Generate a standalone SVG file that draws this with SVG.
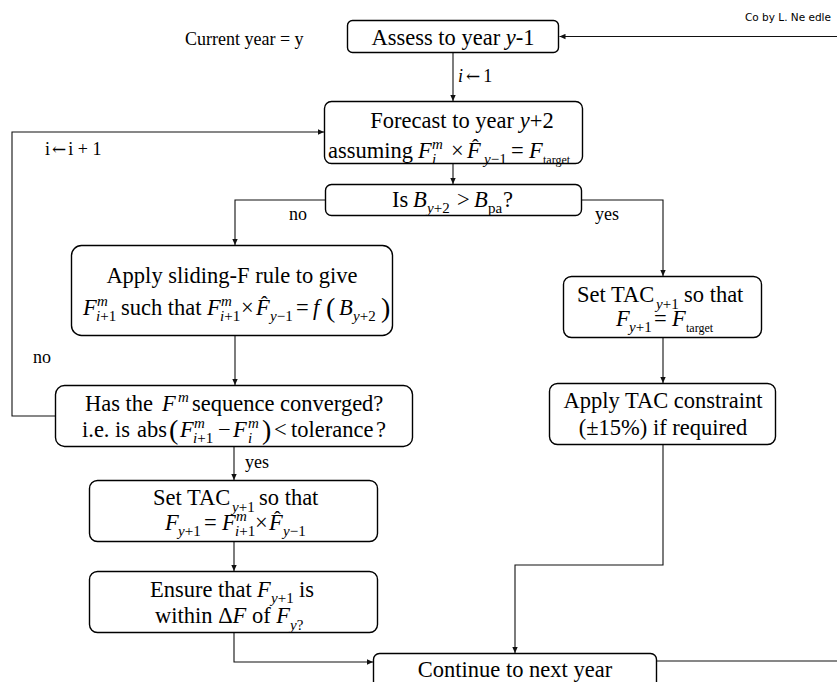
<svg xmlns="http://www.w3.org/2000/svg" width="837" height="682" viewBox="0 0 837 682">
<style>
.t{font-family:"Liberation Serif","Times New Roman",serif;font-size:22.5px;fill:#000}
.m{text-anchor:middle}
.it{font-style:italic}
.sb{font-size:15px}
.tg{font-size:12px}
.lb{font-size:18px}
.pr{font-size:28px}
.ht{font-size:20px}
.ar{font-family:"DejaVu Serif","DejaVu Sans",serif;font-size:17px}
.box{fill:#fff;stroke:#000;stroke-width:1.4}
.c{fill:none;stroke:#111;stroke-width:1.1}
.wm{font-family:"DejaVu Sans","Liberation Sans",sans-serif;font-size:10.5px;fill:#000}
</style>
<defs>
<marker id="ah" viewBox="0 0 10 10" refX="10" refY="5" markerWidth="7" markerHeight="6" orient="auto" markerUnits="userSpaceOnUse"><path d="M0,0.5 L10,5 L0,9.5 z" fill="#111"/></marker>
</defs>
<rect width="837" height="682" fill="#fff"/>

<g id="connectors">
<path class="c" d="M837,36.5 H559.5" marker-end="url(#ah)"/>
<path class="c" d="M453,53 V101" marker-end="url(#ah)"/>
<path class="c" d="M453,164 V184" marker-end="url(#ah)"/>
<path class="c" d="M325,200 H235 V245" marker-end="url(#ah)"/>
<path class="c" d="M582,200 H663 V276" marker-end="url(#ah)"/>
<path class="c" d="M235,336 V385" marker-end="url(#ah)"/>
<path class="c" d="M55,416 H12 V132 H324" marker-end="url(#ah)"/>
<path class="c" d="M234,447 V480" marker-end="url(#ah)"/>
<path class="c" d="M234,542 V571" marker-end="url(#ah)"/>
<path class="c" d="M234,633 V662 H373" marker-end="url(#ah)"/>
<path class="c" d="M663,338 V383" marker-end="url(#ah)"/>
<path class="c" d="M663,445 V565 H515 V653" marker-end="url(#ah)"/>
<path class="c" d="M657,661 H837"/>
<text class="t lb" x="458" y="82"><tspan class="it">i</tspan><tspan class="ar" dx="3">←</tspan><tspan dx="3">1</tspan></text>
<text class="t lb" x="289" y="220">no</text>
<text class="t lb" x="595" y="220">yes</text>
<text class="t lb" x="45" y="155">i<tspan class="ar" dx="2">←</tspan><tspan dx="2">i + 1</tspan></text>
<text class="t lb" x="33" y="363">no</text>
<text class="t lb" x="245" y="468">yes</text>
</g>

<g id="watermark"><text class="wm" x="745" y="21">Co by L. Ne edle</text></g>
<g id="current-year"><text class="t lb" x="185" y="45">Current year = y</text></g>

<g id="assess">
<rect class="box" x="347.5" y="20.5" width="211" height="32" rx="5"/>
<text class="t m" x="453" y="45">Assess to year <tspan class="it">y</tspan>-1</text>
</g>

<g id="forecast">
<rect class="box" x="324.5" y="101.5" width="258" height="62" rx="7"/>
<text class="t m" x="462" y="128">Forecast to year <tspan class="it">y</tspan>+2</text>
<text class="t" y="158"><tspan x="328">assuming</tspan><tspan x="418" class="it">F</tspan><tspan x="432" y="149" class="it sb">m</tspan><tspan x="432" y="164" class="it sb">i</tspan><tspan x="451" y="158">×</tspan><tspan x="467" class="it">F</tspan><tspan x="472" y="154" class="ht">ˆ</tspan><tspan x="484" y="164" class="it sb">y</tspan><tspan class="sb">−1</tspan><tspan x="511" y="158">=</tspan><tspan x="529" class="it">F</tspan><tspan x="543" y="164" class="tg">target</tspan></text>
</g>

<g id="is-b">
<rect class="box" x="325.5" y="184.5" width="256" height="31" rx="6"/>
<text class="t" y="207"><tspan x="392">Is</tspan><tspan x="413" class="it">B</tspan><tspan x="427" y="213" class="it sb">y</tspan><tspan class="sb">+2</tspan><tspan x="457" y="207">&gt;</tspan><tspan x="474" class="it">B</tspan><tspan x="488" y="213" class="sb">pa</tspan><tspan x="503" y="207">?</tspan></text>
</g>

<g id="sliding-f">
<rect class="box" x="71.5" y="245.5" width="321" height="90" rx="10"/>
<text class="t m" x="232" y="283">Apply sliding-F rule to give</text>
<text class="t" y="315"><tspan x="83" class="it">F</tspan><tspan x="97" y="306" class="it sb">m</tspan><tspan x="96" y="321" class="it sb">i</tspan><tspan class="sb">+1</tspan><tspan x="121" y="315">such that</tspan><tspan x="207" class="it">F</tspan><tspan x="221" y="306" class="it sb">m</tspan><tspan x="220" y="321" class="it sb">i</tspan><tspan class="sb">+1</tspan><tspan x="241" y="315">×</tspan><tspan x="256" class="it">F</tspan><tspan x="261" y="311" class="ht">ˆ</tspan><tspan x="270" y="321" class="it sb">y</tspan><tspan class="sb">−1</tspan><tspan x="296" y="315">=</tspan><tspan x="313" class="it">f</tspan><tspan x="326" y="317" class="pr">(</tspan><tspan x="339" y="315" class="it">B</tspan><tspan x="353" y="321" class="it sb">y</tspan><tspan class="sb">+2</tspan><tspan x="381" y="317" class="pr">)</tspan></text>
</g>

<g id="converged">
<rect class="box" x="55.5" y="385.5" width="357" height="61" rx="9"/>
<text class="t" y="411"><tspan x="85">Has the</tspan><tspan x="162" class="it">F</tspan><tspan x="178" y="402" class="it sb">m</tspan><tspan x="192" y="411">sequence converged?</tspan></text>
<text class="t" y="437"><tspan x="82">i.e. is</tspan><tspan x="137">abs</tspan><tspan x="169" y="439" class="pr">(</tspan><tspan x="180" y="437" class="it">F</tspan><tspan x="194" y="428" class="it sb">m</tspan><tspan x="193" y="443" class="it sb">i</tspan><tspan class="sb">+1</tspan><tspan x="218" y="437">−</tspan><tspan x="233" class="it">F</tspan><tspan x="248" y="428" class="it sb">m</tspan><tspan x="248" y="443" class="it sb">i</tspan><tspan x="262" y="439" class="pr">)</tspan><tspan x="274" y="437">&lt;</tspan><tspan x="291">tolerance</tspan><tspan x="376">?</tspan></text>
</g>

<g id="set-tac-left">
<rect class="box" x="89.5" y="480.5" width="288" height="61" rx="8"/>
<text class="t" y="505"><tspan x="153">Set TAC</tspan><tspan x="232" y="512" class="it sb">y</tspan><tspan class="sb">+1</tspan><tspan x="259" y="505">so that</tspan></text>
<text class="t" y="530"><tspan x="165" class="it">F</tspan><tspan x="178" y="536" class="it sb">y</tspan><tspan class="sb">+1</tspan><tspan x="204" y="530">=</tspan><tspan x="222" class="it">F</tspan><tspan x="236" y="521" class="it sb">m</tspan><tspan x="235" y="536" class="it sb">i</tspan><tspan class="sb">+1</tspan><tspan x="255" y="530">×</tspan><tspan x="269" class="it">F</tspan><tspan x="274" y="526" class="ht">ˆ</tspan><tspan x="283" y="536" class="it sb">y</tspan><tspan class="sb">−1</tspan></text>
</g>

<g id="ensure">
<rect class="box" x="89.5" y="571.5" width="288" height="61" rx="8"/>
<text class="t" y="597"><tspan x="150">Ensure that</tspan><tspan x="257" class="it">F</tspan><tspan x="271" y="603" class="it sb">y</tspan><tspan class="sb">+1</tspan><tspan x="299" y="597">is</tspan></text>
<text class="t" y="623"><tspan x="155">within Δ</tspan><tspan class="it">F</tspan><tspan> of </tspan><tspan class="it">F</tspan><tspan x="290" y="630" class="it sb">y</tspan><tspan class="sb">?</tspan></text>
</g>

<g id="set-tac-right">
<rect class="box" x="563.5" y="276.5" width="198" height="61" rx="8"/>
<text class="t" y="302"><tspan x="577">Set TAC</tspan><tspan x="656" y="309" class="it sb">y</tspan><tspan class="sb">+1</tspan><tspan x="684" y="302">so that</tspan></text>
<text class="t" y="326"><tspan x="616" class="it">F</tspan><tspan x="629" y="332" class="it sb">y</tspan><tspan class="sb">+1</tspan><tspan x="654" y="326">=</tspan><tspan x="672" class="it">F</tspan><tspan x="686" y="332" class="tg">target</tspan></text>
</g>

<g id="tac-constraint">
<rect class="box" x="549.5" y="383.5" width="226" height="61" rx="8"/>
<text class="t m" x="663" y="408">Apply TAC constraint</text>
<text class="t m" x="663" y="435">(±15%) if required</text>
</g>

<g id="continue">
<rect class="box" x="373.5" y="653.5" width="283" height="40" rx="6"/>
<text class="t m" x="515" y="677">Continue to next year</text>
</g>
</svg>
